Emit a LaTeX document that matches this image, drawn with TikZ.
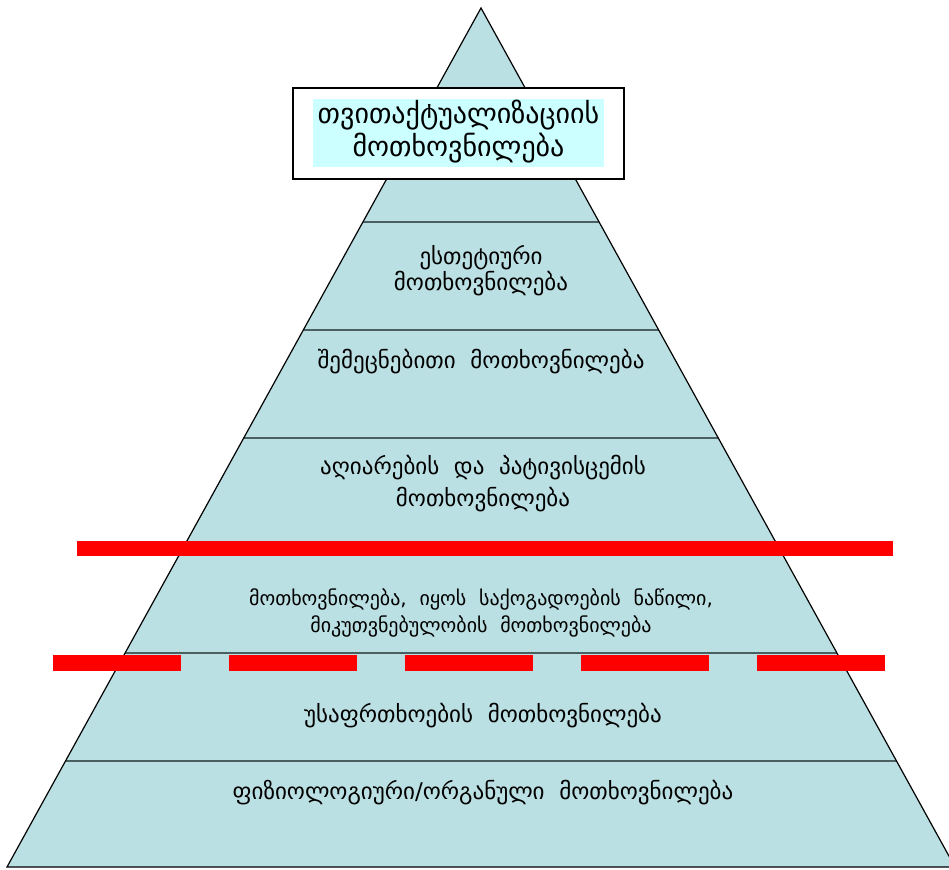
\documentclass[tikz,border=0pt]{standalone}
\usepackage{fontspec}
\setmainfont{DejaVu Sans}
\usetikzlibrary{calc}
\definecolor{pyr}{RGB}{187,224,227}
\definecolor{divc}{RGB}{74,95,96}
\definecolor{topc}{RGB}{204,255,255}
\tikzset{
  divider/.style={draw=divc, line width=2.5pt},
  lbl/.style={align=center, font=\fontsize{23}{26}\selectfont, inner sep=0pt},
  lblbig/.style={align=center, font=\fontsize{28}{33}\selectfont, inner sep=0pt},
  lblsmall/.style={align=center, font=\fontsize{20}{27}\selectfont, inner sep=0pt}
}
\begin{document}
\begin{tikzpicture}[x=1pt,y=-1pt]
\useasboundingbox (0,0) rectangle (949,869);
\begin{scope}
\clip (0,0) rectangle (949,869);
\coordinate (apex) at (481,8);
\coordinate (bl) at (7,867);
\coordinate (br) at (955,867);
\fill[pyr] (apex) -- (bl) -- (br) -- cycle;
\foreach \t in {0.2491,0.3749,0.5006,0.6252,0.7509,0.8766}{
  \draw[divider] ($(apex)!\t!(bl)$) -- ($(apex)!\t!(br)$);
}
\draw[line width=1.2pt] (br) -- (apex) -- (bl) -- (br);
\end{scope}
% top box
\draw[line width=2pt, fill=white] (293,88) rectangle (624,179);
\fill[topc] (313,99) rectangle (604,167);
\node[lblbig] (t1) at (458.5,132) {თვითაქტუალიზაციის\\მოთხოვნილება};
\node[lbl] (t2) at (481,271) {ესთეტიური\\მოთხოვნილება};
\node[lbl] (t3) at (481,362) {შემეცნებითი\ \ მოთხოვნილება};
\node[lbl, font=\fontsize{23}{32}\selectfont] (t4) at (483,484) {აღიარების\ \ და\ \ პატივისცემის\\მოთხოვნილება};
\node[lblsmall] (t5) at (481,613) {მოთხოვნილება,\ \ იყოს\ \ საქოგადოების\ \ ნაწილი,\\მიკუთვნებულობის\ \ მოთხოვნილება};
\node[lbl] (t6) at (483,716) {უსაფრთხოების\ \ მოთხოვნილება};
\node[lbl] (t7) at (483,793) {ფიზიოლოგიური/ორგანული\ \ მოთხოვნილება};
% red bars
\fill[red] (77,541) rectangle (893,556);
\foreach \x in {53,229,405,581,757}{
  \fill[red] (\x,655) rectangle ++(128,16);
}
\end{tikzpicture}
\end{document}
